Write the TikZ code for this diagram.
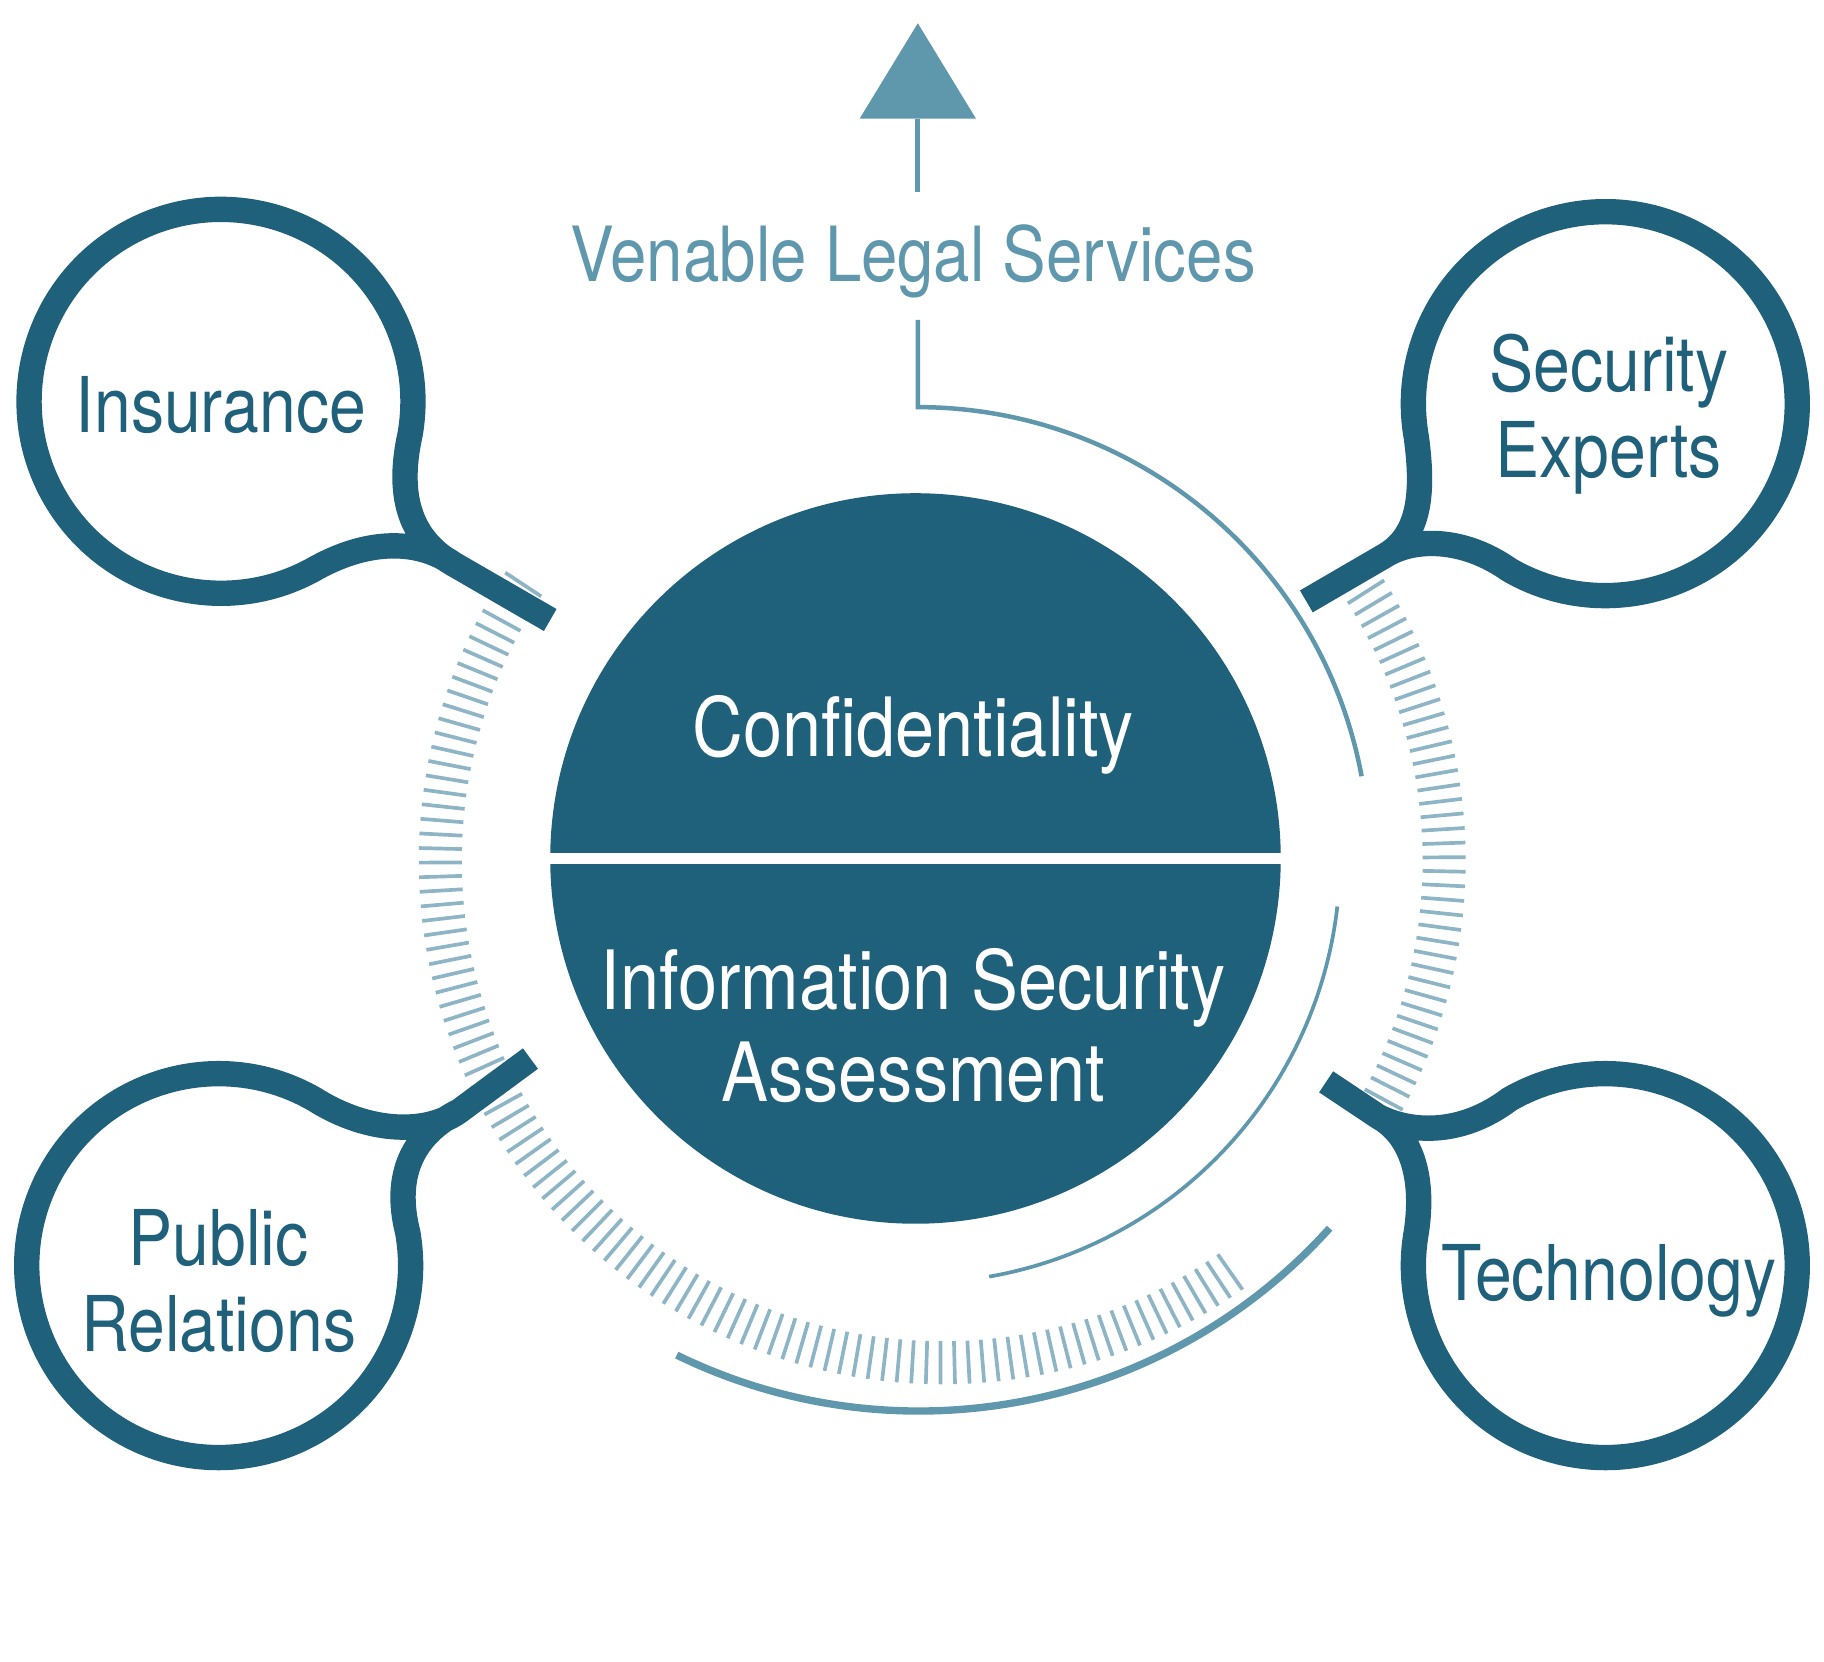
\documentclass[tikz,border=0pt]{standalone}
\usepackage{fontspec}
\setmainfont[FakeStretch=0.86]{TeX Gyre Heros}
\begin{document}
\begin{tikzpicture}[x=0.01cm,y=-0.01cm]
\definecolor{dk}{HTML}{1F607A}
\definecolor{lt}{HTML}{5F97AD}
\definecolor{tk}{HTML}{8DB5C5}
\tikzset{bub/.style={draw=dk,line width=6.2pt},
  btxt/.style={text=dk,font=\fontsize{18.8}{21}\selectfont,align=center},
  wtxt/.style={text=white,font=\fontsize{20}{22.5}\selectfont,align=center}}
\useasboundingbox (0,0) rectangle (1568,1428);
% triangle
\coordinate (tA) at (789,20);
\coordinate (tB) at (739,102);
\coordinate (tC) at (839,102);
\fill[lt] (tA)--(tB)--(tC)--cycle;
\coordinate (st) at (789,165);
\coordinate (sb) at (789,102);
\draw[lt,line width=1.2pt] (sb)--(st);
\node[text=lt,font=\fontsize{18.6}{22}\selectfont] (ven) at (785,225) {Venable Legal Services};
% arcs
\coordinate (a0) at (789,275);
\coordinate (a1) at (789,350);
\draw[lt,line width=1.1pt] (a0)--(a1) arc(-90:-10.5:388);
\draw[lt,line width=0.9pt] (787,738) ++(6.5:365) arc(6.5:80:365);
\draw[lt,line width=1.8pt] (790,738) ++(42:475) arc(42:116:475);
% ticks
\foreach \a in {55,56.6,...,215} \draw[tk,line width=0.9pt,shift={(810,740)}] (\a:413)--(\a:450);
\foreach \a in {-34,-32.4,...,30} \draw[tk,line width=0.9pt,shift={(810,740)}] (\a:413)--(\a:450);
% center
\fill[dk] (787,738) circle[radius=314];
\fill[white] (470,733) rectangle (1105,743);
\node[wtxt] (conf) at (785,632) {Confidentiality};
\node[wtxt] (isa) at (785,882) {Information Security\\Assessment};
% Insurance bubble
\coordinate (j1) at (390,485);
\coordinate (e1) at (473,533);
\draw[bub,line join=round] (j1) .. controls (362,465) and (320,462) .. (272.5,487.9) arc(60:370:165) .. controls (340,430) and (355,465) .. (j1) -- (e1);
% Security experts
\coordinate (j2) at (1190,478);
\coordinate (e2) at (1123,517);
\draw[bub,line join=round] (j2) .. controls (1215,462) and (1258,462) .. (1297.5,489.9) arc(120:-190:165) .. controls (1225,430) and (1218,462) .. (j2) -- (e2);
% Public relations
\coordinate (j3) at (395,955);
\coordinate (e3) at (456,910);
\draw[bub,line join=round] (j3) .. controls (368,975) and (318,975) .. (270.5,945.1) arc(-60:-370:165) .. controls (338,1010) and (355,975) .. (j3) -- (e3);
% Technology
\coordinate (j4) at (1185,960);
\coordinate (e4) at (1140,930);
\draw[bub,line join=round] (j4) .. controls (1215,975) and (1258,975) .. (1297.5,945.1) arc(240:550:165) .. controls (1225,1010) and (1212,975) .. (j4) -- (e4);
% texts
\node[btxt] (ins) at (190,348) {Insurance};
\node[btxt] (sec) at (1383,356) {Security\\Experts};
\node[btxt] (pr) at (188,1101) {Public\\Relations};
\node[btxt] (tech) at (1383,1101) {Technology};
\end{tikzpicture}
\end{document}
